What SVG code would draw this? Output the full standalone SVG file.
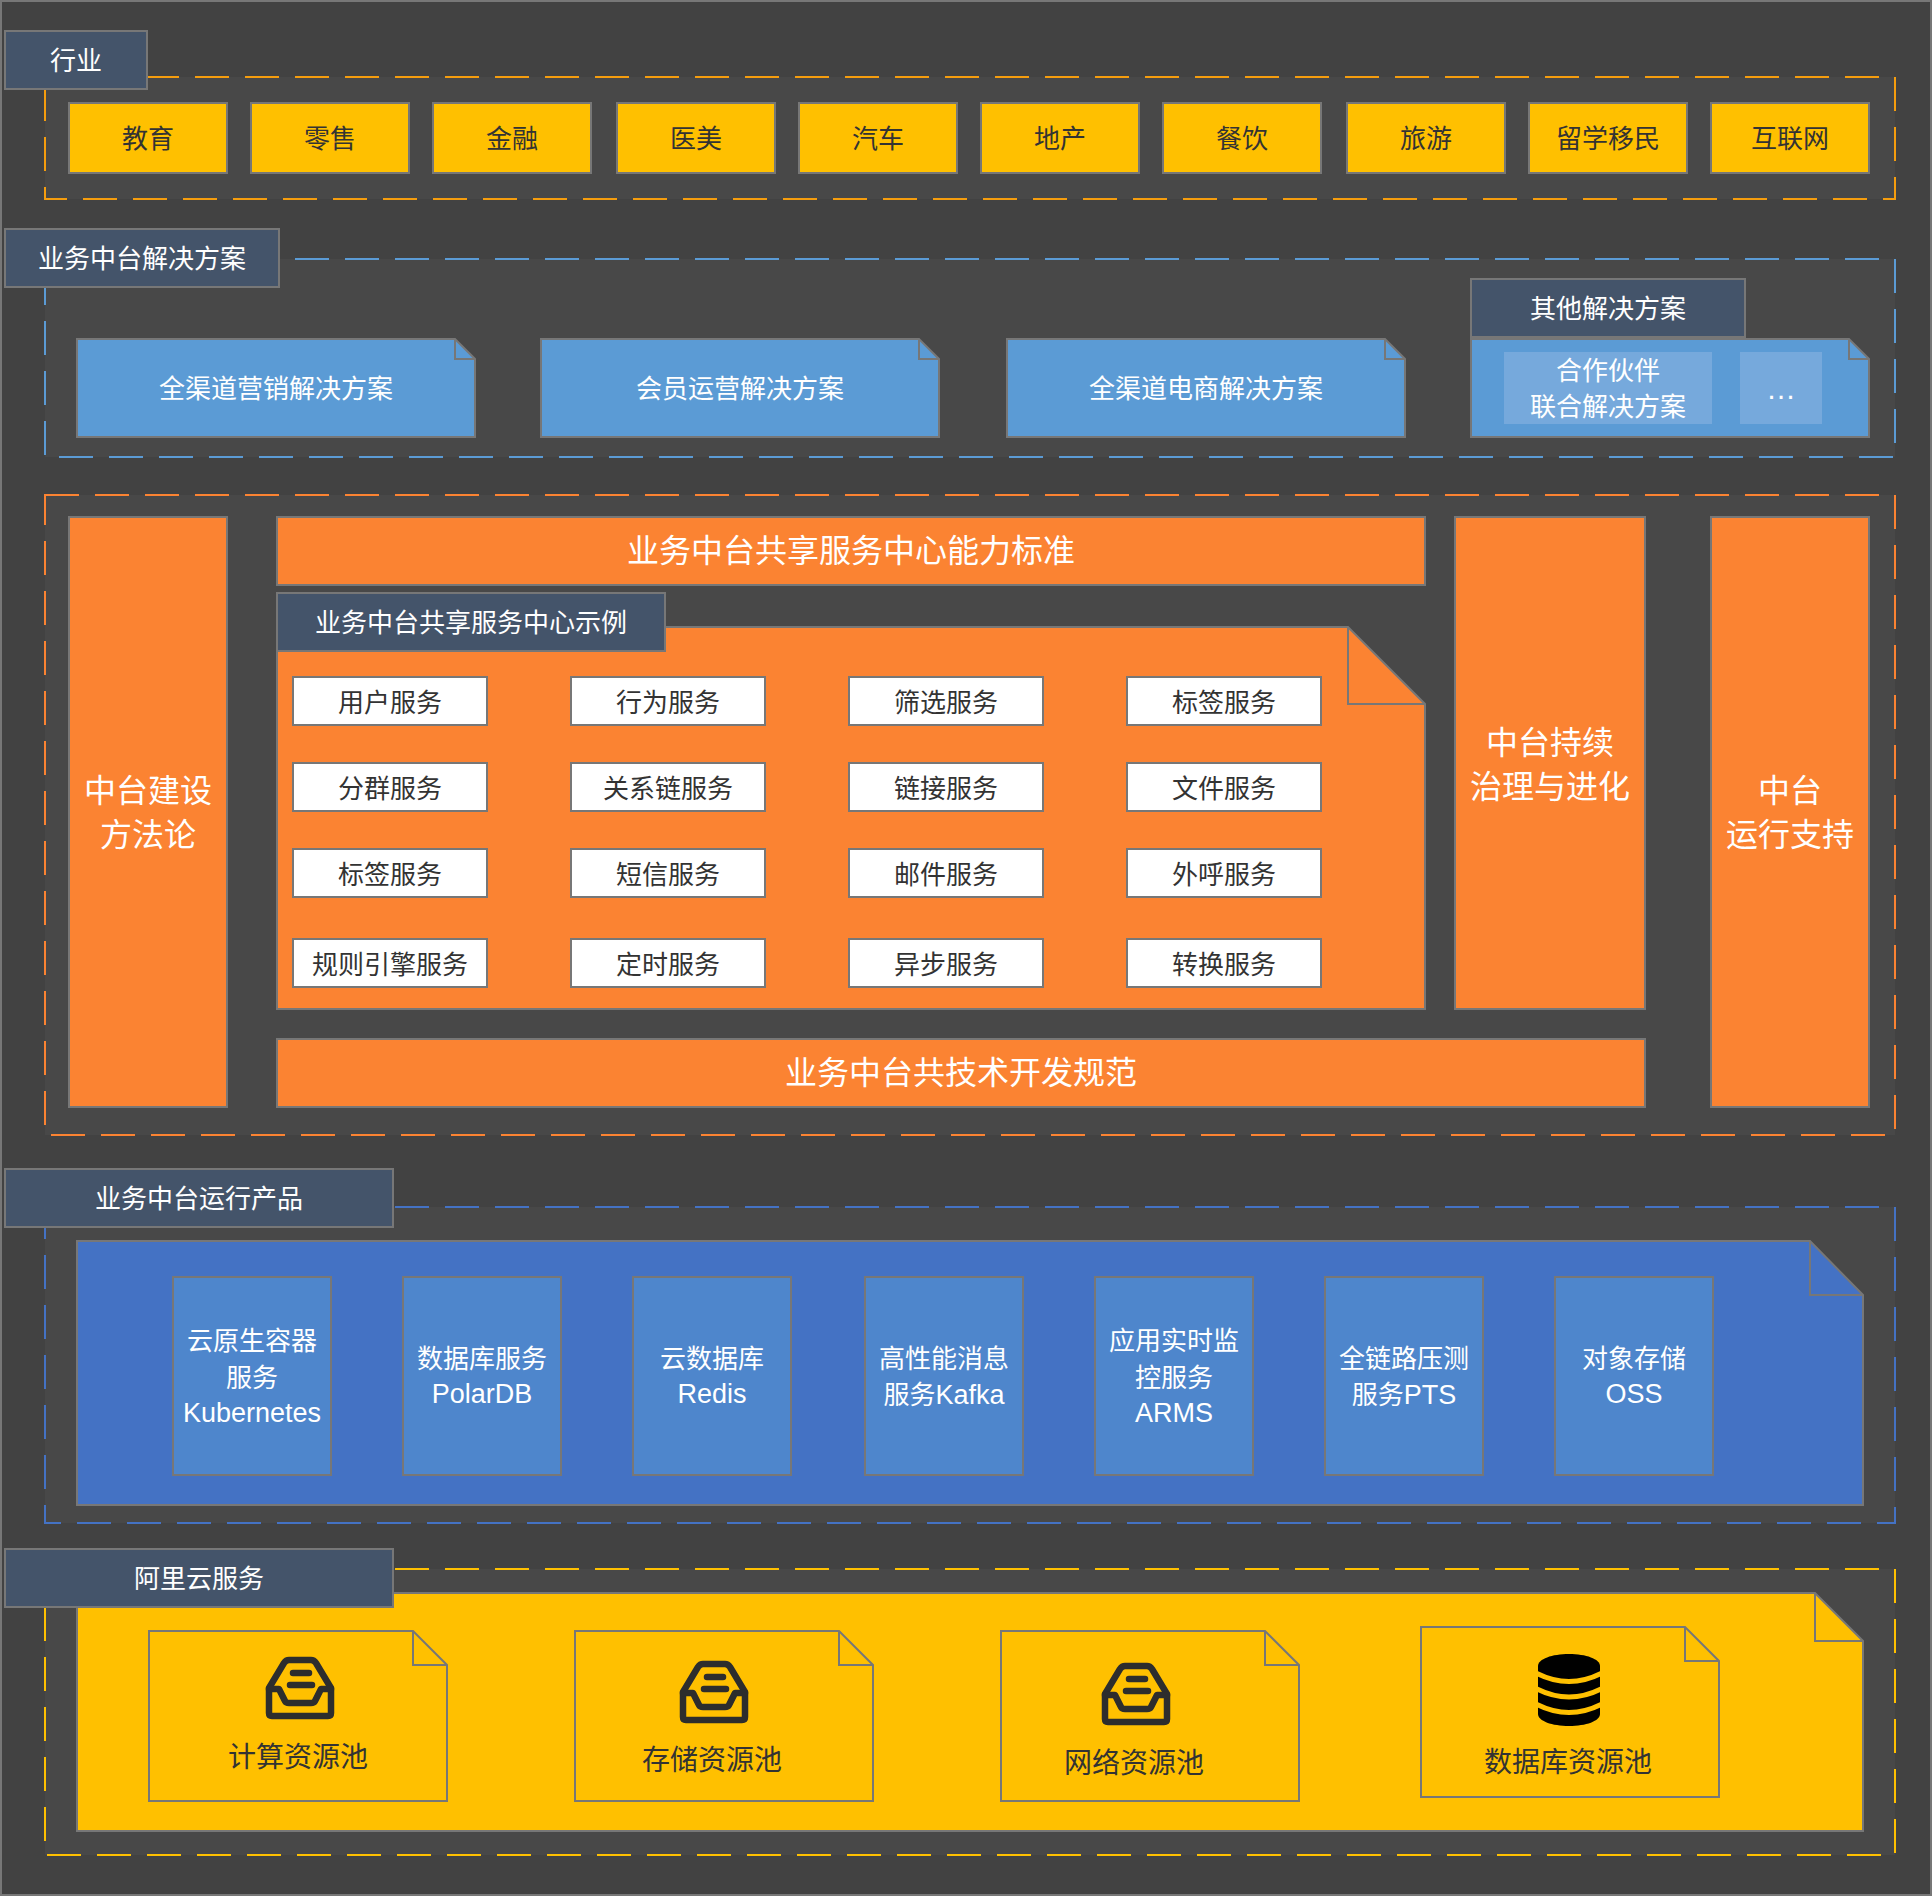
<svg xmlns="http://www.w3.org/2000/svg" width="1932" height="1896" viewBox="0 0 1932 1896">
<style>
text{font-family:"Liberation Sans","Noto Sans CJK SC",sans-serif;text-anchor:middle;font-size:26px;fill:#333}
.w{fill:#fff}
.l{font-size:27px}
.b{font-size:32px;fill:#fff}
.c{font-size:28px}
.s{stroke:#777;stroke-width:2}
.lab{fill:#44546A;stroke:#777;stroke-width:2}
.zone{fill:#484848;stroke-width:2;stroke-dasharray:34 16}
.gold{fill:#FFC000}.blue{fill:#5B9BD5}.org{fill:#FB8332}.navy{fill:#4472C4}.prod{fill:#4E86CC}.white{fill:#fff}
.sub{fill:#76A9DC}
.ink{fill:none;stroke:#2d2d2d;stroke-width:6.500;stroke-linecap:round;stroke-linejoin:round}
.fold{fill:none;stroke:#777;stroke-width:2}
</style>
<defs>
<g id="inbox">
<path class="ink" d="M23,3H45Q48,3 50,6L65,31V56Q65,59 62,59H6Q3,59 3,56V31L18,6Q20,3 23,3Z"/>
<path class="ink" d="M3,32H13L19,44Q20,46 23,46H45Q48,46 49,44L55,32H65"/>
<path class="ink" d="M27,16H43M24,28H46"/>
</g>
<g id="dbicon">
<path fill="#000" d="M0,12C0,5 14,0 31,0C48,0 62,5 62,12V60C62,67 48,72 31,72C14,72 0,67 0,60Z"/>
<path fill="none" stroke="#FFC000" stroke-width="5" d="M-1,19.500Q31,35.500 63,19.500M-1,35Q31,51 63,35M-1,50.500Q31,66.500 63,50.500"/>
</g>
</defs>
<rect id="background" x="1" y="1" width="1930" height="1894" fill="#424242" stroke="#777" stroke-width="2"/>
<g id="connectors"></g>

<g id="zone-industry">
<rect class="zone" x="45" y="77" width="1850" height="122" stroke="#F59D0E"/>
<rect class="lab" x="5" y="31" width="142" height="58"/><text class="w" x="76" y="70">行业</text>
</g>
<g id="industry-items">
<g id="i1"><rect class="gold s" x="69" y="103" width="158" height="70"/><text x="148" y="148">教育</text></g>
<g id="i2"><rect class="gold s" x="251" y="103" width="158" height="70"/><text x="330" y="148">零售</text></g>
<g id="i3"><rect class="gold s" x="433" y="103" width="158" height="70"/><text x="512" y="148">金融</text></g>
<g id="i4"><rect class="gold s" x="617" y="103" width="158" height="70"/><text x="696" y="148">医美</text></g>
<g id="i5"><rect class="gold s" x="799" y="103" width="158" height="70"/><text x="878" y="148">汽车</text></g>
<g id="i6"><rect class="gold s" x="981" y="103" width="158" height="70"/><text x="1060" y="148">地产</text></g>
<g id="i7"><rect class="gold s" x="1163" y="103" width="158" height="70"/><text x="1242" y="148">餐饮</text></g>
<g id="i8"><rect class="gold s" x="1347" y="103" width="158" height="70"/><text x="1426" y="148">旅游</text></g>
<g id="i9"><rect class="gold s" x="1529" y="103" width="158" height="70"/><text x="1608" y="148">留学移民</text></g>
<g id="i10"><rect class="gold s" x="1711" y="103" width="158" height="70"/><text x="1790" y="148">互联网</text></g>
</g>

<g id="zone-solutions">
<rect class="zone" x="45" y="259" width="1850" height="198" stroke="#5B9BD5"/>
<rect class="lab" x="5" y="229" width="274" height="58"/><text class="w" x="142" y="268">业务中台解决方案</text>
</g>
<g id="sol1"><path class="blue s" d="M77,339H455L475,359V437H77Z"/><path class="fold" d="M455,339V359H475"/><text class="w" x="276" y="398">全渠道营销解决方案</text></g>
<g id="sol2"><path class="blue s" d="M541,339H919L939,359V437H541Z"/><path class="fold" d="M919,339V359H939"/><text class="w" x="740" y="398">会员运营解决方案</text></g>
<g id="sol3"><path class="blue s" d="M1007,339H1385L1405,359V437H1007Z"/><path class="fold" d="M1385,339V359H1405"/><text class="w" x="1206" y="398">全渠道电商解决方案</text></g>
<g id="sol4"><path class="blue s" d="M1471,339H1849L1869,359V437H1471Z"/><path class="fold" d="M1849,339V359H1869"/>
<rect class="sub" x="1504" y="352" width="208" height="72"/><rect class="sub" x="1740" y="352" width="82" height="72"/>
<text class="w" x="1608" y="380">合作伙伴</text><text class="w" x="1608" y="416">联合解决方案</text>
<text class="w" style="font-size:30px" x="1781" y="399">…</text></g>
<g id="sol-other"><rect class="lab" x="1471" y="279" width="274" height="58"/><text class="w" x="1608" y="318">其他解决方案</text></g>

<g id="zone-center"><rect class="zone" x="45" y="495" width="1850" height="640" stroke="#FB8332"/></g>
<g id="method"><rect class="org s" x="69" y="517" width="158" height="590"/><text class="b" x="148" y="802">中台建设</text><text class="b" x="148" y="846">方法论</text></g>
<g id="standard"><rect class="org s" x="277" y="517" width="1148" height="68"/><text class="b" x="851" y="562">业务中台共享服务中心能力标准</text></g>
<g id="govern"><rect class="org s" x="1455" y="517" width="190" height="492"/><text class="b" x="1550" y="754">中台持续</text><text class="b" x="1550" y="798">治理与进化</text></g>
<g id="support"><rect class="org s" x="1711" y="517" width="158" height="590"/><text class="b" x="1790" y="802">中台</text><text class="b" x="1790" y="846">运行支持</text></g>
<g id="devspec"><rect class="org s" x="277" y="1039" width="1368" height="68"/><text class="b" x="961" y="1084">业务中台共技术开发规范</text></g>
<g id="example"><path class="org s" d="M277,627H1348L1425,704V1009H277Z"/><path class="fold" d="M1348,627V704H1425"/></g>
<g id="example-label"><rect class="lab" x="277" y="593" width="388" height="58"/><text class="w" x="471" y="632">业务中台共享服务中心示例</text></g>
<g id="services">
<g id="s11"><rect class="white s" x="293" y="677" width="194" height="48"/><text x="390" y="712">用户服务</text></g>
<g id="s12"><rect class="white s" x="571" y="677" width="194" height="48"/><text x="668" y="712">行为服务</text></g>
<g id="s13"><rect class="white s" x="849" y="677" width="194" height="48"/><text x="946" y="712">筛选服务</text></g>
<g id="s14"><rect class="white s" x="1127" y="677" width="194" height="48"/><text x="1224" y="712">标签服务</text></g>
<g id="s21"><rect class="white s" x="293" y="763" width="194" height="48"/><text x="390" y="798">分群服务</text></g>
<g id="s22"><rect class="white s" x="571" y="763" width="194" height="48"/><text x="668" y="798">关系链服务</text></g>
<g id="s23"><rect class="white s" x="849" y="763" width="194" height="48"/><text x="946" y="798">链接服务</text></g>
<g id="s24"><rect class="white s" x="1127" y="763" width="194" height="48"/><text x="1224" y="798">文件服务</text></g>
<g id="s31"><rect class="white s" x="293" y="849" width="194" height="48"/><text x="390" y="884">标签服务</text></g>
<g id="s32"><rect class="white s" x="571" y="849" width="194" height="48"/><text x="668" y="884">短信服务</text></g>
<g id="s33"><rect class="white s" x="849" y="849" width="194" height="48"/><text x="946" y="884">邮件服务</text></g>
<g id="s34"><rect class="white s" x="1127" y="849" width="194" height="48"/><text x="1224" y="884">外呼服务</text></g>
<g id="s41"><rect class="white s" x="293" y="939" width="194" height="48"/><text x="390" y="974">规则引擎服务</text></g>
<g id="s42"><rect class="white s" x="571" y="939" width="194" height="48"/><text x="668" y="974">定时服务</text></g>
<g id="s43"><rect class="white s" x="849" y="939" width="194" height="48"/><text x="946" y="974">异步服务</text></g>
<g id="s44"><rect class="white s" x="1127" y="939" width="194" height="48"/><text x="1224" y="974">转换服务</text></g>
</g>

<g id="zone-products"><rect class="zone" x="45" y="1207" width="1850" height="316" stroke="#4472C4"/></g>
<g id="products-note"><path class="navy s" d="M77,1241H1810L1863,1295V1505H77Z"/><path class="fold" d="M1810,1241V1295H1863"/></g>
<g id="products-label"><rect class="lab" x="5" y="1169" width="388" height="58"/><text class="w" x="199" y="1208">业务中台运行产品</text></g>
<g id="p1"><rect class="prod s" x="173" y="1277" width="158" height="198"/><text class="w" x="252" y="1350">云原生容器</text><text class="w" x="252" y="1387">服务</text><text class="w l" x="252" y="1422">Kubernetes</text></g>
<g id="p2"><rect class="prod s" x="403" y="1277" width="158" height="198"/><text class="w" x="482" y="1368">数据库服务</text><text class="w l" x="482" y="1403">PolarDB</text></g>
<g id="p3"><rect class="prod s" x="633" y="1277" width="158" height="198"/><text class="w" x="712" y="1368">云数据库</text><text class="w l" x="712" y="1403">Redis</text></g>
<g id="p4"><rect class="prod s" x="865" y="1277" width="158" height="198"/><text class="w" x="944" y="1368">高性能消息</text><text class="w" x="944" y="1404">服务<tspan class="l">Kafka</tspan></text></g>
<g id="p5"><rect class="prod s" x="1095" y="1277" width="158" height="198"/><text class="w" x="1174" y="1350">应用实时监</text><text class="w" x="1174" y="1387">控服务</text><text class="w l" x="1174" y="1422">ARMS</text></g>
<g id="p6"><rect class="prod s" x="1325" y="1277" width="158" height="198"/><text class="w" x="1404" y="1368">全链路压测</text><text class="w" x="1404" y="1404">服务<tspan class="l">PTS</tspan></text></g>
<g id="p7"><rect class="prod s" x="1555" y="1277" width="158" height="198"/><text class="w" x="1634" y="1368">对象存储</text><text class="w l" x="1634" y="1403">OSS</text></g>

<g id="zone-aliyun"><rect class="zone" x="45" y="1569" width="1850" height="286" stroke="#FFC000"/></g>
<g id="aliyun-note"><path class="gold s" d="M77,1593H1815L1863,1641V1831H77Z"/><path class="fold" d="M1815,1593V1641H1863"/></g>
<g id="aliyun-label"><rect class="lab" x="5" y="1549" width="388" height="58"/><text class="w" x="199" y="1588">阿里云服务</text></g>
<g id="pool1"><path class="gold s" d="M149,1631H413L447,1665V1801H149Z"/><path class="fold" d="M413,1631V1665H447"/><use href="#inbox" x="266" y="1657"/><text class="c" x="298" y="1767">计算资源池</text></g>
<g id="pool2"><path class="gold s" d="M575,1631H839L873,1665V1801H575Z"/><path class="fold" d="M839,1631V1665H873"/><use href="#inbox" x="680" y="1661"/><text class="c" x="712" y="1770">存储资源池</text></g>
<g id="pool3"><path class="gold s" d="M1001,1631H1265L1299,1665V1801H1001Z"/><path class="fold" d="M1265,1631V1665H1299"/><use href="#inbox" x="1102" y="1663"/><text class="c" x="1134" y="1773">网络资源池</text></g>
<g id="pool4"><path class="gold s" d="M1421,1627H1685L1719,1661V1797H1421Z"/><path class="fold" d="M1685,1627V1661H1719"/><use href="#dbicon" x="1538" y="1654"/><text class="c" x="1568" y="1772">数据库资源池</text></g>
</svg>
